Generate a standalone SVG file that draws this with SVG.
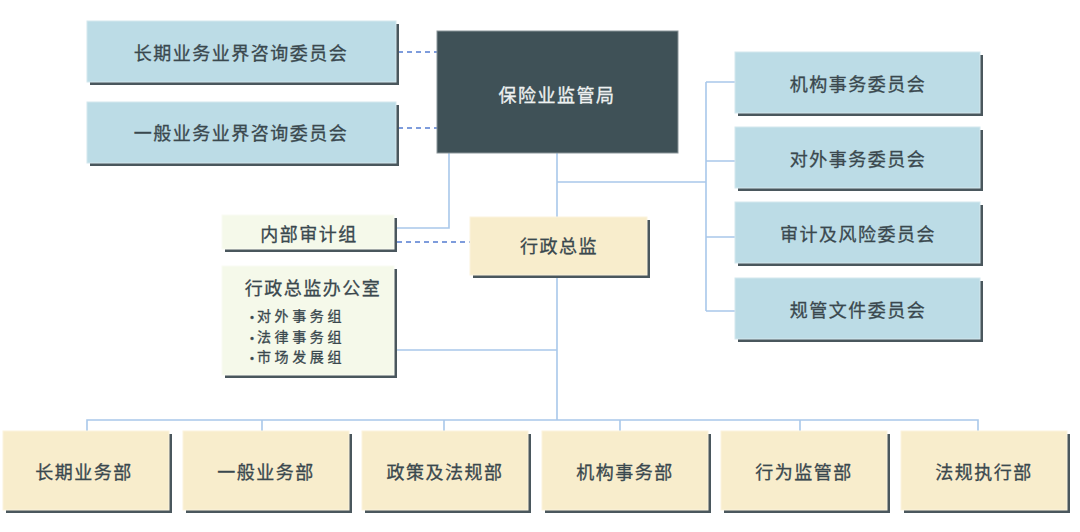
<svg xmlns="http://www.w3.org/2000/svg" width="1080" height="532" viewBox="0 0 1080 532">
<defs>
<style>
.t{font-family:"Noto Sans CJK SC","Noto Sans",sans-serif;font-size:18px;fill:#3a484e;stroke:#3a484e;stroke-width:0.3px;text-anchor:middle;dominant-baseline:central;letter-spacing:1.5px}
.w{fill:#eef1f1;stroke:#eef1f1}
.s{font-size:14px;text-anchor:start;letter-spacing:3.6px}
.b{font-size:14px;text-anchor:start;letter-spacing:0}
.sh{fill:#4a575d}
.blue{fill:#bcdce6;stroke:#d4e8ee;stroke-width:1}
.tan{fill:#f8edcc;stroke:#fbf3de;stroke-width:1}
.grn{fill:#f5f9ea;stroke:#fafcf3;stroke-width:1}
.ln{fill:none;stroke:#a9c8ea;stroke-width:1.6}
.ds{fill:none;stroke:#7e9cdc;stroke-width:2;stroke-dasharray:5 4}
</style>
</defs>
<rect width="1080" height="532" fill="#ffffff"/>
<g id="connectors">
<path class="ds" d="M398 52H437M398 128H437M397 242H470"/>
<path class="ln" d="M557 153V217M557 182H706M706 82V311M706 82H735M706 161H735M706 237H735M706 311H735"/>
<path class="ln" d="M449 153V228H397"/>
<path class="ln" d="M557 278V420M397 350H557"/>
<path class="ln" d="M87 431V420H978V431M262 420V431M444 420V431M620 420V431M800 420V431"/>
</g>
<g id="n-adv-long">
<rect class="sh" x="90" y="24" width="309" height="61"/>
<rect class="blue" x="87" y="21" width="309" height="61"/>
<text class="t" x="241" y="52">长期业务业界咨询委员会</text>
</g>
<g id="n-adv-general">
<rect class="sh" x="90" y="105" width="309" height="61"/>
<rect class="blue" x="87" y="102" width="309" height="61"/>
<text class="t" x="241" y="132">一般业务业界咨询委员会</text>
</g>
<g id="n-ia">
<rect x="437" y="31" width="241" height="122" fill="#3f5157" stroke="#8a9599" stroke-width="1"/>
<text class="t w" x="557" y="94">保险业监管局</text>
</g>
<g id="n-c1">
<rect class="sh" x="738" y="55" width="245" height="61"/>
<rect class="blue" x="735" y="52" width="245" height="61"/>
<text class="t" x="858" y="83">机构事务委员会</text>
</g>
<g id="n-c2">
<rect class="sh" x="738" y="130" width="245" height="61"/>
<rect class="blue" x="735" y="127" width="245" height="61"/>
<text class="t" x="858" y="158">对外事务委员会</text>
</g>
<g id="n-c3">
<rect class="sh" x="738" y="205" width="245" height="61"/>
<rect class="blue" x="735" y="202" width="245" height="61"/>
<text class="t" x="858" y="233">审计及风险委员会</text>
</g>
<g id="n-c4">
<rect class="sh" x="738" y="281" width="245" height="61"/>
<rect class="blue" x="735" y="278" width="245" height="61"/>
<text class="t" x="858" y="309">规管文件委员会</text>
</g>
<g id="n-audit">
<rect class="sh" x="225" y="218" width="172" height="34"/>
<rect class="grn" x="222" y="215" width="172" height="34"/>
<text class="t" x="309" y="233">内部审计组</text>
</g>
<g id="n-ceo">
<rect class="sh" x="473" y="220" width="177" height="58"/>
<rect class="tan" x="470" y="217" width="177" height="58"/>
<text class="t" x="559" y="245">行政总监</text>
</g>
<g id="n-office">
<rect class="sh" x="225" y="269" width="172" height="109"/>
<rect class="grn" x="222" y="266" width="172" height="109"/>
<text class="t" x="313" y="287">行政总监办公室</text>
<text class="t b" x="245" y="316">•</text>
<text class="t b" x="245" y="336.5">•</text>
<text class="t b" x="245" y="357">•</text>
<text class="t s" x="257" y="315">对外事务组</text>
<text class="t s" x="257" y="335.5">法律事务组</text>
<text class="t s" x="257" y="356">市场发展组</text>
</g>
<g id="n-d1">
<rect class="sh" x="6" y="434" width="166" height="79"/>
<rect class="tan" x="3" y="431" width="166" height="79"/>
<text class="t" x="84" y="471">长期业务部</text>
</g>
<g id="n-d2">
<rect class="sh" x="186" y="434" width="166" height="79"/>
<rect class="tan" x="183" y="431" width="166" height="79"/>
<text class="t" x="266" y="471">一般业务部</text>
</g>
<g id="n-d3">
<rect class="sh" x="365" y="434" width="166" height="79"/>
<rect class="tan" x="362" y="431" width="166" height="79"/>
<text class="t" x="445" y="471">政策及法规部</text>
</g>
<g id="n-d4">
<rect class="sh" x="545" y="434" width="166" height="79"/>
<rect class="tan" x="542" y="431" width="166" height="79"/>
<text class="t" x="625" y="471">机构事务部</text>
</g>
<g id="n-d5">
<rect class="sh" x="724" y="434" width="166" height="79"/>
<rect class="tan" x="721" y="431" width="166" height="79"/>
<text class="t" x="804" y="471">行为监管部</text>
</g>
<g id="n-d6">
<rect class="sh" x="904" y="434" width="166" height="79"/>
<rect class="tan" x="901" y="431" width="166" height="79"/>
<text class="t" x="984" y="471">法规执行部</text>
</g>
</svg>
